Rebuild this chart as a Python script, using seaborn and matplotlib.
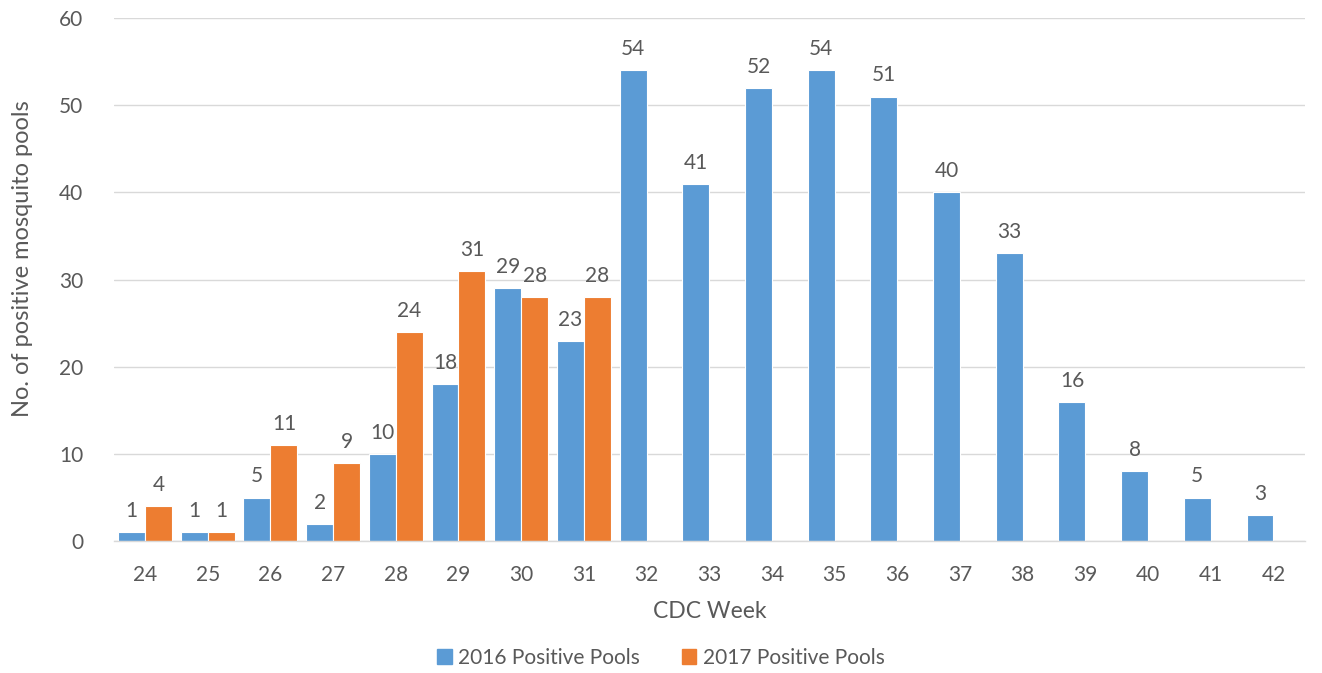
import numpy as np
import pandas as pd
import matplotlib
matplotlib.use("Agg")
import matplotlib.pyplot as plt
import seaborn as sns

# Dados
semanas = [24, 25, 26, 27, 28, 29, 30, 31, 32, 33, 34, 35, 36, 37, 38, 39, 40, 41, 42]
pools_2016 = [1, 1, 5, 2, 10, 18, 29, 23, 54, 41, 52, 54, 51, 40, 33, 16, 8, 5, 3]
pools_2017 = [4, 1, 11, 9, 24, 31, 28, 28]
series = ["2016 Positive Pools", "2017 Positive Pools"]
cores = ["#5B9BD5", "#ED7D31"]

sns.set_theme(style="white")
plt.rcParams['font.family'] = ['Lato', 'DejaVu Sans']
cinza = "#595959"

# Monta o DataFrame em formato longo
v2017 = pools_2017 + [np.nan] * (len(semanas) - len(pools_2017))
df = pd.DataFrame({
    'semana': [str(s) for s in semanas] * 2,
    'valor': pools_2016 + v2017,
    'serie': [series[0]] * len(semanas) + [series[1]] * len(semanas),
})

fig, ax = plt.subplots(figsize=(13.22, 6.73), dpi=100)
fig.subplots_adjust(left=0.086, right=0.987, top=0.973, bottom=0.196)

sns.barplot(data=df, x='semana', y='valor', hue='serie', palette=cores,
            saturation=1, width=0.86, edgecolor='white', linewidth=0.8,
            ax=ax, legend=False)

# Rótulos nos topos das barras
for cont in ax.containers:
    labels = ['' if np.isnan(v) else f'{int(v)}' for v in cont.datavalues]
    ax.bar_label(cont, labels=labels, padding=8, fontsize=15, color=cinza)

ax.set_ylim(0, 60)
ax.set_yticks(range(0, 61, 10))
ax.set_xlim(-0.5, len(semanas) - 0.5)
ax.yaxis.grid(True, color='#D9D9D9', linewidth=1)
ax.set_axisbelow(True)
for lado in ['top', 'right', 'left']:
    ax.spines[lado].set_visible(False)
ax.spines['bottom'].set_color('#D9D9D9')
ax.spines['bottom'].set_linewidth(1)
ax.tick_params(axis='x', length=0, labelsize=15, colors=cinza, pad=17)
ax.tick_params(axis='y', length=0, labelsize=15, colors=cinza, pad=22)

ax.set_xlabel('CDC Week', fontsize=16.5, color=cinza, labelpad=12)
ax.set_ylabel('No. of positive mosquito pools', fontsize=17, color=cinza)
ax.yaxis.set_label_coords(-0.068, 0.54)

# Legenda
handles = [plt.Rectangle((0, 0), 1, 1, color=c) for c in cores]
fig.legend(handles, series, loc='lower center', ncol=2, frameon=False,
           fontsize=15, labelcolor=cinza, handlelength=0.7, handleheight=0.7,
           handletextpad=0.3, columnspacing=2.0, bbox_to_anchor=(0.5, -0.02))

plt.savefig('out.png', dpi=100)
